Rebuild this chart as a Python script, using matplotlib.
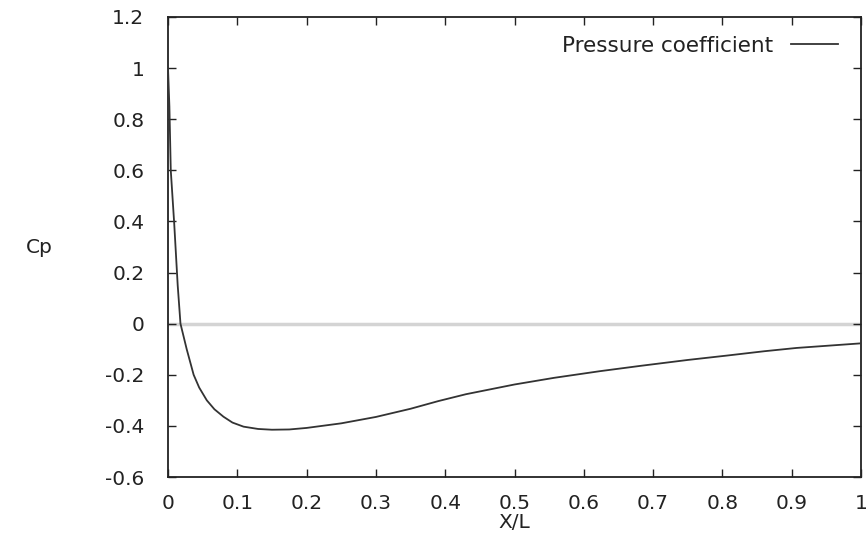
import matplotlib
matplotlib.use("Agg")
import matplotlib.pyplot as plt

# Data
x_over_l = [0.0, 0.002, 0.004, 0.009, 0.014, 0.018, 0.027, 0.037, 0.045, 0.056,
            0.067, 0.08, 0.093, 0.109, 0.13, 0.15, 0.175, 0.2, 0.25, 0.3,
            0.35, 0.39, 0.43, 0.5, 0.557, 0.623, 0.682, 0.75, 0.806, 0.86,
            0.907, 1.0]
cp = [1.0, 0.85, 0.6, 0.39, 0.15, 0.0, -0.10, -0.20, -0.25, -0.30,
      -0.335, -0.364, -0.387, -0.403, -0.412, -0.415, -0.414, -0.408, -0.39, -0.365,
      -0.333, -0.303, -0.276, -0.238, -0.212, -0.186, -0.165, -0.142, -0.125, -0.108,
      -0.095, -0.077]
xticks = [0.0, 0.1, 0.2, 0.3, 0.4, 0.5, 0.6, 0.7, 0.8, 0.9, 1.0]
xtick_labels = ["0", "0.1", "0.2", "0.3", "0.4", "0.5", "0.6", "0.7", "0.8", "0.9", "1"]
yticks = [-0.6, -0.4, -0.2, 0.0, 0.2, 0.4, 0.6, 0.8, 1.0, 1.2]
ytick_labels = ["-0.6", "-0.4", "-0.2", "0", "0.2", "0.4", "0.6", "0.8", "1", "1.2"]

plt.rcParams['font.family'] = ['DejaVu Sans']

fig = plt.figure(figsize=(8.66, 5.36), dpi=100)
ax = fig.add_axes([168/866, 1-477/536, (861-168)/866, (477-17)/536])

ax.axhline(0, color="#d4d4d4", lw=2.5, zorder=1)
ax.plot(x_over_l, cp, color="#333333", lw=1.3, label="Pressure coefficient", zorder=3)

ax.set_xlim(0, 1)
ax.set_ylim(-0.6, 1.2)
ax.set_xticks(xticks)
ax.set_xticklabels(xtick_labels)
ax.set_yticks(yticks)
ax.set_yticklabels(ytick_labels)
ax.tick_params(direction="in", length=6, width=1, top=True, right=True,
               labelsize=14.5, colors="#222222")
ax.tick_params(axis="x", pad=12)
ax.tick_params(axis="y", pad=17)
for s in ax.spines.values():
    s.set_linewidth(1.3)
    s.set_color("#222222")

ax.set_xlabel("X/L", fontsize=14.5, color="#222222")
ax.xaxis.set_label_coords(0.5, -0.098)
ax.xaxis.label.set_va("center")
ax.set_ylabel("Cp", fontsize=14.5, rotation=0, color="#222222")
ax.yaxis.set_label_coords(-0.186, 0.498)
ax.yaxis.label.set_va("center")
ax.yaxis.label.set_ha("center")

leg = ax.legend(loc="center right", bbox_to_anchor=(0.967, 0.937), frameon=False,
                markerfirst=False, fontsize=15.5, handlelength=2.2, handletextpad=0.8,
                borderaxespad=0, borderpad=0)
for t in leg.get_texts():
    t.set_color("#222222")

fig.savefig("out.png", dpi=100)
